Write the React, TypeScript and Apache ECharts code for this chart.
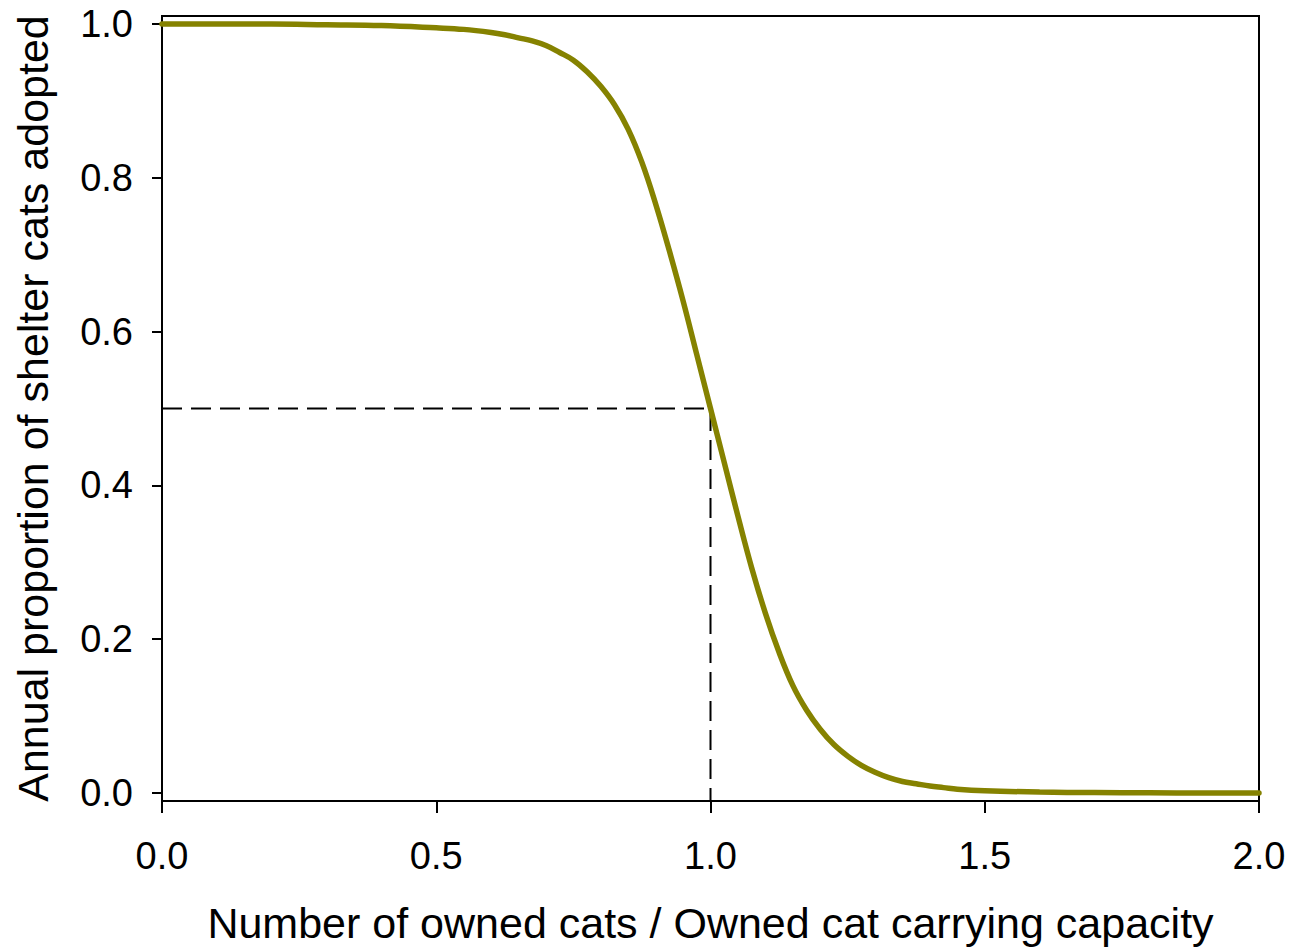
import React, { useEffect, useRef } from "react";
import * as echarts from "echarts";

// Ratio of owned cats to owned cat carrying capacity (x) and proportion adopted (y)
const ratioValues = [
  0.0, 0.1, 0.2, 0.3, 0.4, 0.5, 0.55, 0.6, 0.625, 0.65, 0.675, 0.7, 0.725, 0.75, 0.775, 0.8, 0.825, 0.85, 0.875,
  0.9, 0.925, 0.95, 0.975, 1.0, 1.025, 1.05, 1.075, 1.1, 1.125, 1.15, 1.175, 1.2, 1.225, 1.25, 1.275, 1.3, 1.325,
  1.35, 1.375, 1.4, 1.425, 1.45, 1.5, 1.6, 1.7, 1.8, 1.9, 2.0,
];
const adoptedValues = [
  1.0, 1.0, 1.0, 0.999, 0.998, 0.995, 0.993, 0.989, 0.986, 0.982, 0.978, 0.972, 0.963, 0.953, 0.938, 0.919, 0.895,
  0.863, 0.82, 0.766, 0.705, 0.64, 0.57, 0.5, 0.43, 0.36, 0.293, 0.234, 0.183, 0.14, 0.108, 0.083, 0.063, 0.048,
  0.036, 0.027, 0.02, 0.015, 0.012, 0.009, 0.007, 0.005, 0.003, 0.0012, 0.0005, 0.0002, 0.0001, 0.0,
];
// Dashed reference guide: half adoption at ratio 1.0
const guideX = [0, 1, 1];
const guideY = [0.5, 0.5, -0.0104];

const xTicks = [0, 0.5, 1.0, 1.5, 2.0];
const yTicks = [0, 0.2, 0.4, 0.6, 0.8, 1.0];

const xTitle = "Number of owned cats / Owned cat carrying capacity";
const yTitle = "Annual proportion of shelter cats adopted";

export default function App() {
  const ref = useRef<HTMLDivElement>(null);
  useEffect(() => {
    if (!ref.current) return;
    const chart = echarts.init(ref.current, undefined, { renderer: "svg" });
    const font = "'Liberation Sans', Arial, sans-serif";
    chart.setOption({
      animation: false,
      backgroundColor: "#ffffff",
      grid: {
        left: 162,
        top: 16,
        right: 42,
        bottom: 146,
        show: true,
        borderColor: "#000000",
        borderWidth: 2,
        backgroundColor: "transparent",
      },
      xAxis: {
        type: "value",
        min: 0,
        max: 2,
        name: xTitle,
        nameLocation: "middle",
        nameGap: 100,
        nameTextStyle: { fontFamily: font, fontSize: 43, color: "#000" },
        axisLine: { show: true, onZero: false, lineStyle: { color: "#000", width: 2 } },
        axisTick: { show: true, inside: false, length: 12, lineStyle: { color: "#000", width: 2 }, customValues: xTicks },
        axisLabel: {
          fontFamily: font,
          fontSize: 38,
          color: "#000",
          margin: 36,
          customValues: xTicks,
          formatter: (v: number) => v.toFixed(1),
        },
        splitLine: { show: false },
      },
      yAxis: {
        type: "value",
        min: -0.0104,
        max: 1.0104,
        name: yTitle,
        nameLocation: "middle",
        nameGap: 108,
        nameTextStyle: { fontFamily: font, fontSize: 43, color: "#000" },
        axisLine: { show: true, onZero: false, lineStyle: { color: "#000", width: 2 } },
        axisTick: { show: true, inside: false, length: 10, lineStyle: { color: "#000", width: 2 }, customValues: yTicks },
        axisLabel: {
          fontFamily: font,
          fontSize: 38,
          color: "#000",
          margin: 29,
          customValues: yTicks,
          formatter: (v: number) => v.toFixed(1),
        },
        splitLine: { show: false },
      },
      series: [
        {
          type: "line",
          data: guideX.map((x, i) => [x, guideY[i]]),
          showSymbol: false,
          symbol: "none",
          lineStyle: { color: "#000", width: 2, type: [20, 9] },
          z: 2,
          silent: true,
        },
        {
          type: "line",
          data: ratioValues.map((x, i) => [x, adoptedValues[i]]),
          showSymbol: false,
          symbol: "none",
          smooth: 0.4,
          lineStyle: { color: "#858200", width: 5.5, cap: "round" },
          z: 3,
          clip: false,
        },
      ],
    });
    return () => chart.dispose();
  }, []);
  return (
    <div
      ref={ref}
      style={{ position: "fixed", left: 0, top: 0, width: 1301, height: 949, background: "#fff" }}
    />
  );
}
